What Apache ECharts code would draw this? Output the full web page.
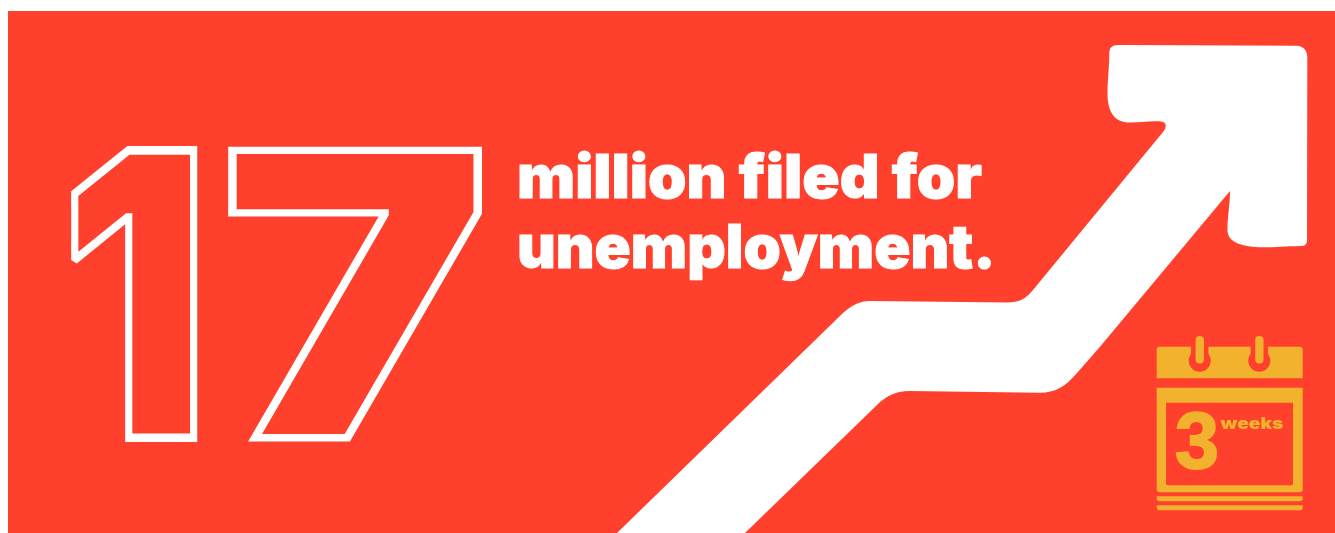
<!DOCTYPE html>
<html><head><meta charset="utf-8">
<style>html,body{margin:0;padding:0;background:#fff}#c{width:1335px;height:533px}</style>
<script src="https://cdn.jsdelivr.net/npm/echarts@6/dist/echarts.min.js"></script>
</head><body><div id="c"></div>
<script>
const bigNumber = "17";
const captionLines = ["million filed for", "unemployment."];
const calendarValue = "3";
const calendarUnit = "weeks";
const arrowOutline = [
 ['M',617,533],['L',843,313],['C',852,305,860,301,870,301],['L',1008,302.5],['C',1018,302.5,1026,299,1033,290],
 ['L',1163,132],['C',1167,127,1167,122,1161,121.5],['C',1150,120.5,1142,122.5,1130,122.5],['C',1115,122.5,1107.5,113,1107.5,93],
 ['C',1107.5,80,1109.3,68,1109.3,53],['C',1109.3,48,1112,45,1118,45],['L',1296,45.7],['C',1303,45.7,1307.3,50,1307.3,57],
 ['L',1307,240],['C',1307,244,1305,246,1301,246],['C',1285,246.3,1275,247.3,1263,247.3],['C',1243,247,1227.5,243,1227.5,230],
 ['C',1227.5,215,1230,205,1230,191],['L',1100,346.7],['L',1077,373],['C',1065,387,1055,392.7,1040,392.7],
 ['L',910,391],['C',895,391,885,397,877,405],['L',745,533],['Z']
];
const Y='#F2B22E', R='#FF402D';
const chart = echarts.init(document.getElementById('c'),null,{renderer:'canvas'});
function arrowItem(p, api){
  let d='';
  arrowOutline.forEach(s=>{
    d+=s[0];
    for(let i=1;i<s.length;i+=2){const c=api.coord([s[i],s[i+1]]);d+=c[0]+' '+c[1]+' ';}
  });
  return {type:'path',shape:{pathData:d},style:{fill:'#fff'}};
}
const rr=(x,y,w,h,r,f)=>({type:'rect',shape:{x,y,width:w,height:h,r},style:{fill:f},z:10});
const txt=(x,y,t,font,extra,sx)=>({type:'text',x,y,z:12,scaleX:sx||1,style:Object.assign({text:t,font,fill:'#fff',verticalAlign:'middle',align:'left'},extra||{})});
const outline={fill:'rgba(0,0,0,0)',stroke:'#fff',lineJoin:'miter',miterLimit:10};
chart.setOption({
  animation:false,
  backgroundColor:'#fff',
  grid:{show:true,left:8,top:11,right:0,bottom:0,backgroundColor:R,borderWidth:0},
  xAxis:{type:'value',min:8,max:1335,show:false},
  yAxis:{type:'value',min:11,max:533,inverse:true,show:false},
  series:[{type:'custom',coordinateSystem:'cartesian2d',renderItem:arrowItem,data:[[0,0]],silent:true,z:2}],
  graphic:[
    txt(60.3,319,bigNumber[0],'900 395px Inter',Object.assign({lineWidth:8.6},outline),0.833),
    txt(220,319,bigNumber[1],'900 395px Inter',Object.assign({lineWidth:7.4},outline),1.15),
    txt(517,180,captionLines[0],'900 60px Inter',{stroke:'#fff',lineWidth:1},1.027),
    txt(517,250,captionLines[1],'900 60px Inter',{stroke:'#fff',lineWidth:1},0.996),
    rr(1156.7,346.7,146,31.6,[3,3,0,0],Y),
    {type:'circle',shape:{cx:1199.7,cy:360.7,r:11},style:{fill:R},z:11},
    {type:'circle',shape:{cx:1259.3,cy:360.7,r:11},style:{fill:R},z:11},
    {type:'rect',shape:{x:1191,y:345,width:17.4,height:15},style:{fill:R},z:11},
    {type:'rect',shape:{x:1250.6,y:345,width:17.4,height:15},style:{fill:R},z:11},
    {type:'rect',shape:{x:1195.6,y:336,width:8.3,height:27.5,r:4},style:{fill:Y},z:12},
    {type:'rect',shape:{x:1255.2,y:336,width:8.3,height:27.5,r:4},style:{fill:Y},z:12},
    rr(1156.7,387.7,146,104.6,[0,0,3,3],Y),
    {type:'rect',shape:{x:1166,y:402.7,width:127,height:82.6,r:[0,0,2,2]},style:{fill:R},z:11},
    rr(1156.7,496.3,146,5,[0,0,3,3],Y),
    rr(1156.7,505.3,146,5,[0,0,3,3],Y),
    txt(1175,446,calendarValue,'bold 79px "Liberation Sans"',{fill:Y,stroke:Y,lineWidth:2}),
    txt(1220.5,424,calendarUnit,'900 16px Inter',{fill:Y},1.2)
  ]
});
</script></body></html>
